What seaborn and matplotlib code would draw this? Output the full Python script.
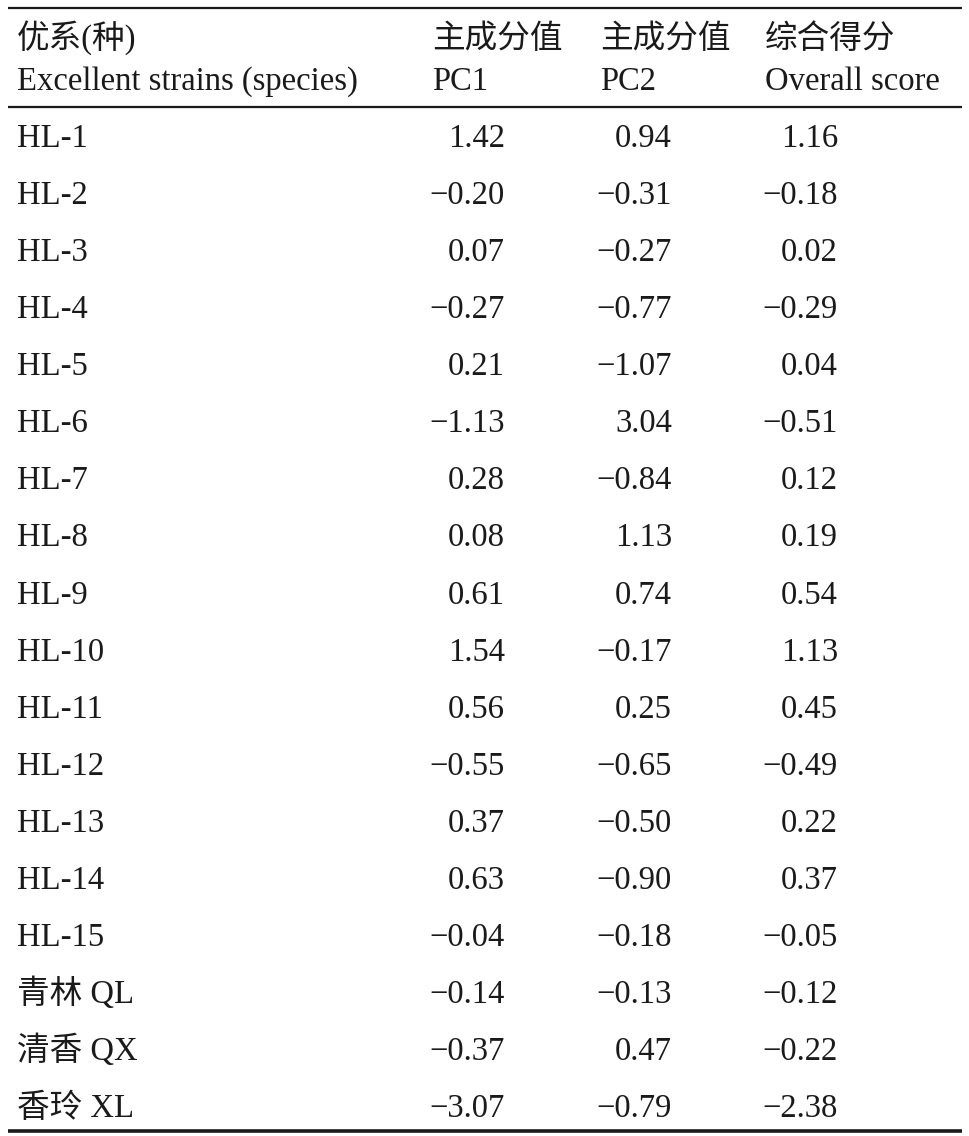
import matplotlib
matplotlib.use("Agg")
import matplotlib.pyplot as plt
import seaborn as sns
import pandas as pd

# table data
strains = ["HL-1", "HL-2", "HL-3", "HL-4", "HL-5", "HL-6", "HL-7", "HL-8", "HL-9",
           "HL-10", "HL-11", "HL-12", "HL-13", "HL-14", "HL-15",
           "青林 QL", "清香 QX", "香玲 XL"]
pc1 = [1.42, -0.20, 0.07, -0.27, 0.21, -1.13, 0.28, 0.08, 0.61,
       1.54, 0.56, -0.55, 0.37, 0.63, -0.04, -0.14, -0.37, -3.07]
pc2 = [0.94, -0.31, -0.27, -0.77, -1.07, 3.04, -0.84, 1.13, 0.74,
       -0.17, 0.25, -0.65, -0.50, -0.90, -0.18, -0.13, 0.47, -0.79]
overall = [1.16, -0.18, 0.02, -0.29, 0.04, -0.51, 0.12, 0.19, 0.54,
           1.13, 0.45, -0.49, 0.22, 0.37, -0.05, -0.12, -0.22, -2.38]

header_cn = ["优系(种)", "主成分值", "主成分值", "综合得分"]
header_en = ["Excellent strains (species)", "PC1", "PC2", "Overall score"]

df = pd.DataFrame({"strain": strains, "PC1": pc1, "PC2": pc2, "Overall": overall})

sns.set_theme(style="white")
plt.rcParams['font.family'] = ['Liberation Serif', 'Noto Sans CJK SC']
plt.rcParams['axes.unicode_minus'] = True

W, H = 970, 1136
fig = plt.figure(figsize=(W / 100, H / 100), dpi=100)
ax = fig.add_axes([0, 0, 1, 1])
ax.set_xlim(0, W)
ax.set_ylim(H, 0)
ax.axis("off")

fs = 23.5
ink = "#1a1a1a"
col_left = [17, 432, 600, 765]
col_right = [None, 505, 672, 838]

# header, chinese line in a lighter weight
for j in range(4):
    ax.text(col_left[j], 48, header_cn[j], fontsize=fs, ha="left", va="baseline",
            color=ink, fontweight="light")
    ax.text(col_left[j], 90, header_en[j], fontsize=fs, ha="left", va="baseline", color=ink)

# three-line table rules
ax.plot([8, 962], [7.5, 7.5], color=ink, lw=1.6, solid_capstyle="butt")
ax.plot([8, 962], [106.5, 106.5], color=ink, lw=1.6, solid_capstyle="butt")
ax.plot([8, 962], [1131, 1131], color=ink, lw=2.6, solid_capstyle="butt")

def fmt(v):
    s = f"{abs(v):.2f}"
    return ("\u2212" + s) if v < 0 else s

row0, step = 146.7, 57.1
for i, r in df.iterrows():
    y = row0 + i * step
    ax.text(col_left[0], y, r["strain"], fontsize=fs, ha="left", va="baseline",
            color=ink, fontweight="light")
    for j, c in enumerate(["PC1", "PC2", "Overall"], start=1):
        ax.text(col_right[j], y, fmt(r[c]), fontsize=fs, ha="right", va="baseline", color=ink)

fig.savefig("out.png", dpi=100, facecolor="white")
